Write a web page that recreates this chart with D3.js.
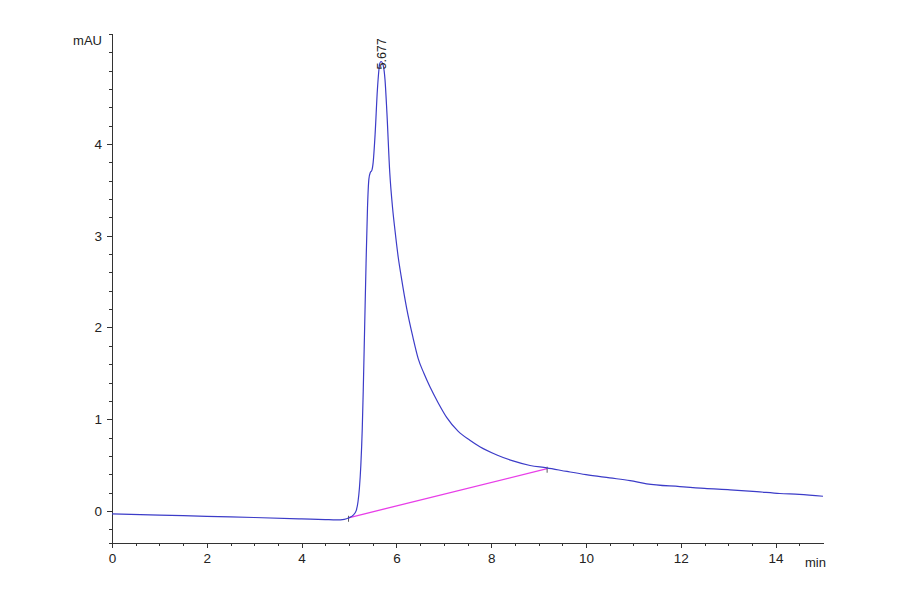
<!DOCTYPE html>
<html lang="en">
<head>
    <meta charset="UTF-8">
    <title>Chromatogram</title>
    <style>
        body {
            background-color: #ffffff;
            margin: 0;
            overflow: hidden;
        }
        svg {
            display: block;
        }
        .axis text {
            font-family: "Liberation Sans", Arial, sans-serif;
            font-size: 13.5px;
            fill: #222;
        }
        .axis path, .axis line {
            fill: none;
            stroke: #333;
            shape-rendering: crispEdges;
        }
        .unit-label {
            font-family: "Liberation Sans", Arial, sans-serif;
            font-size: 13px;
            fill: #222;
        }
    </style>
</head>
<body>
    <svg id="chart"></svg>

    <script src="https://d3js.org/d3.v7.min.js"></script>
    <script>
        // retention time (min) and signal (mAU)
        const times = [0, 1, 2, 3, 4, 4.5, 4.74, 4.9, 5.0, 5.09, 5.15, 5.19, 5.22, 5.25, 5.28, 5.30,
            5.33, 5.36, 5.39, 5.42, 5.45, 5.48, 5.51, 5.55, 5.60, 5.65, 5.677, 5.72, 5.76, 5.80,
            5.86, 5.92, 5.97, 6.04, 6.10, 6.22, 6.35, 6.46, 6.58, 6.71, 6.88, 7.06, 7.3, 7.55,
            7.76, 8.12, 8.46, 8.82, 9.17, 9.6, 10.0, 10.5, 10.93, 11.28, 11.98, 12.5, 13.04,
            13.6, 14.09, 14.5, 15];
        const signal = [-0.033, -0.045, -0.06, -0.072, -0.087, -0.095, -0.098, -0.092, -0.075, -0.045,
            0.0, 0.10, 0.25, 0.5, 0.9, 1.3, 2.0, 2.7, 3.3, 3.62, 3.69, 3.71, 3.80, 4.1, 4.6, 4.88,
            4.90, 4.86, 4.70, 4.34, 3.69, 3.3, 3.06, 2.76, 2.56, 2.20, 1.89, 1.66, 1.50, 1.35, 1.18,
            1.02, 0.87, 0.77, 0.70, 0.61, 0.545, 0.495, 0.47, 0.43, 0.395, 0.36, 0.33, 0.295, 0.265,
            0.245, 0.23, 0.21, 0.19, 0.18, 0.16];

        // integration baseline (start / end)
        const baselineTimes = [4.99, 9.18];
        const baselineValues = [-0.075, 0.46];

        const peakTime = 5.677;
        const peakValue = 4.90;
        const peakLabel = "5.677";

        const xMajor = [0, 2, 4, 6, 8, 10, 12, 14];
        const xMinor = [0.5, 1, 1.5, 2.5, 3, 3.5, 4.5, 5, 5.5, 6.5, 7, 7.5, 8.5, 9, 9.5,
            10.5, 11, 11.5, 12.5, 13, 13.5, 14.5];
        const yMajor = [0, 1, 2, 3, 4];
        const yMinor = [-0.2, 0.2, 0.4, 0.6, 0.8, 1.2, 1.4, 1.6, 1.8, 2.2, 2.4, 2.6, 2.8,
            3.2, 3.4, 3.6, 3.8, 4.2, 4.4, 4.6, 4.8, 5.0];

        const W = 900, H = 594;
        const svg = d3.select("#chart").attr("width", W).attr("height", H);

        const x = d3.scaleLinear().domain([0, 15]).range([112, 823]);
        const y = d3.scaleLinear().domain([-0.35, 5.2]).range([543, 34]);

        // minor ticks first
        svg.append("g")
            .attr("class", "axis")
            .attr("transform", `translate(0,${y(-0.35)})`)
            .call(d3.axisBottom(x).tickValues(xMinor).tickSize(3).tickFormat(""))
            .call(g => g.select(".domain").remove());

        svg.append("g")
            .attr("class", "axis")
            .attr("transform", `translate(${x(0)},0)`)
            .call(d3.axisLeft(y).tickValues(yMinor).tickSize(3).tickFormat(""))
            .call(g => g.select(".domain").remove());

        // major axes
        svg.append("g")
            .attr("class", "axis")
            .attr("transform", `translate(0,${y(-0.35)})`)
            .call(d3.axisBottom(x).tickValues(xMajor).tickSize(5).tickSizeOuter(0)
                .tickPadding(5).tickFormat(d3.format("d")));

        svg.append("g")
            .attr("class", "axis")
            .attr("transform", `translate(${x(0)},0)`)
            .call(d3.axisLeft(y).tickValues(yMajor).tickSize(5).tickSizeOuter(3)
                .tickPadding(5).tickFormat(d3.format("d")));

        // unit labels
        svg.append("text")
            .attr("class", "unit-label")
            .attr("x", 102)
            .attr("y", 45)
            .attr("text-anchor", "end")
            .text("mAU");

        svg.append("text")
            .attr("class", "unit-label")
            .attr("x", 805)
            .attr("y", 567)
            .text("min");

        const trace = times.map((t, i) => ({ t: t, v: signal[i] }));
        const base = baselineTimes.map((t, i) => ({ t: t, v: baselineValues[i] }));

        const line = d3.line()
            .x(d => x(d.t))
            .y(d => y(d.v))
            .curve(d3.curveMonotoneX);

        // baseline
        svg.append("path")
            .datum(base)
            .attr("fill", "none")
            .attr("stroke", "#e83ee8")
            .attr("stroke-width", 1.3)
            .attr("d", d3.line().x(d => x(d.t)).y(d => y(d.v)));

        // small markers at baseline ends
        svg.selectAll(".bmark")
            .data(base)
            .enter().append("line")
            .attr("class", "bmark")
            .attr("x1", d => x(d.t))
            .attr("x2", d => x(d.t))
            .attr("y1", d => y(d.v) - 2)
            .attr("y2", d => y(d.v) + 4)
            .attr("stroke", "#333")
            .attr("stroke-width", 0.8);

        // signal trace
        svg.append("path")
            .datum(trace)
            .attr("fill", "none")
            .attr("stroke", "#3c3cc8")
            .attr("stroke-width", 1.2)
            .attr("d", line);

        // peak retention time label
        svg.append("text")
            .attr("transform", `translate(${x(peakTime) + 4.5},${y(peakValue) + 8}) rotate(-90)`)
            .attr("font-family", "\"Liberation Sans\", Arial, sans-serif")
            .attr("font-size", 12.5)
            .attr("fill", "#222")
            .text(peakLabel);
    </script>
</body>
</html>
